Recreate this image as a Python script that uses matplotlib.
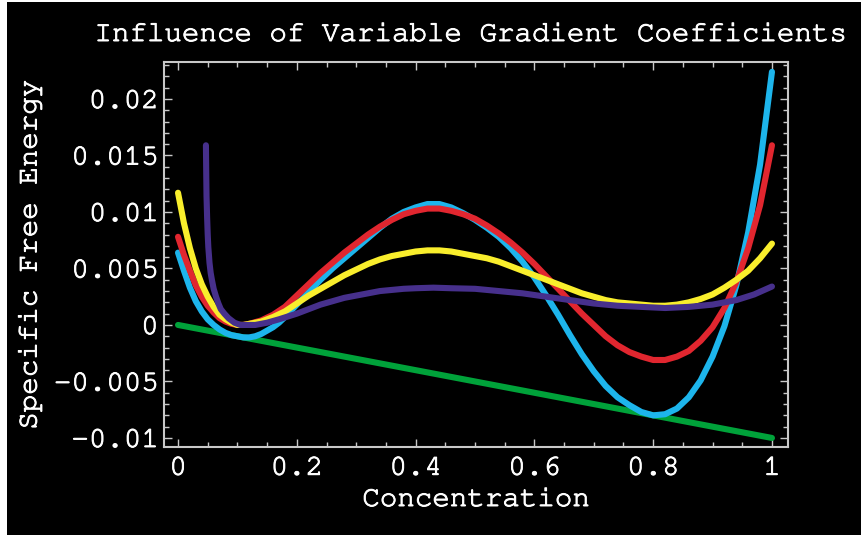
import matplotlib
matplotlib.use("Agg")
import matplotlib.pyplot as plt
import matplotlib.patheffects as pe
from matplotlib.patches import Rectangle
from matplotlib.ticker import FixedLocator, FixedFormatter, MultipleLocator
import logging
logging.getLogger("matplotlib.font_manager").setLevel(logging.ERROR)

# ---- data ----
cyan_x = [0, 0.01, 0.02, 0.03, 0.04, 0.05, 0.06, 0.07, 0.08, 0.09, 0.10, 0.11, 0.12, 0.13, 0.14,
          0.15, 0.16, 0.17, 0.18, 0.20, 0.22, 0.24, 0.26, 0.28, 0.30, 0.32, 0.34, 0.36, 0.38,
          0.40, 0.42, 0.44, 0.46, 0.48, 0.50, 0.52, 0.54, 0.56, 0.58, 0.60, 0.62, 0.64, 0.66,
          0.68, 0.70, 0.72, 0.74, 0.76, 0.78, 0.80, 0.82, 0.84, 0.86, 0.88, 0.90, 0.92,
          0.94, 0.96, 0.98, 1.0]
cyan_y = [0.0064, 0.0048, 0.0033, 0.0021, 0.0012, 0.0005, 0.0000, -0.0004, -0.0007, -0.0009,
          -0.0010, -0.0011, -0.0011, -0.0010, -0.0008, -0.0005, -0.0002, 0.0002, 0.0007, 0.0018,
          0.0029, 0.0040, 0.0050, 0.0059, 0.0068, 0.0077, 0.0086, 0.0094, 0.0100, 0.0104,
          0.0107, 0.0107, 0.0104, 0.0099, 0.0093, 0.0086, 0.0078, 0.0068, 0.0056, 0.0042,
          0.0026, 0.0009, -0.0009, -0.0026, -0.0041, -0.0054, -0.0064, -0.0071, -0.0077,
          -0.0080, -0.0079, -0.0074, -0.0064, -0.0049, -0.0028, -0.0001, 0.0035,
          0.0082, 0.0142, 0.0224]

red_x = [0, 0.01, 0.02, 0.03, 0.04, 0.05, 0.06, 0.07, 0.08, 0.09, 0.10, 0.11, 0.12, 0.14, 0.16,
         0.18, 0.20, 0.22, 0.24, 0.26, 0.28, 0.30, 0.32, 0.34, 0.36, 0.38, 0.40, 0.42, 0.44,
         0.46, 0.48, 0.50, 0.52, 0.54, 0.56, 0.58, 0.60, 0.62, 0.64, 0.66, 0.68, 0.70, 0.72,
         0.74, 0.76, 0.78, 0.80, 0.82, 0.84, 0.86, 0.88, 0.90, 0.92, 0.94, 0.96, 0.98, 1.0]
red_y = [0.0078, 0.0062, 0.0048, 0.0035, 0.0025, 0.0017, 0.0011, 0.0006, 0.0003, 0.0001, 0.0000,
         0.0000, 0.0001, 0.0004, 0.0009, 0.0016, 0.0026, 0.0036, 0.0046, 0.0055, 0.0064,
         0.0072, 0.0080, 0.0087, 0.0093, 0.0098, 0.0101, 0.0103, 0.0103, 0.0101, 0.0098,
         0.0094, 0.0088, 0.0081, 0.0073, 0.0064, 0.0054, 0.0043, 0.0032, 0.0021, 0.0010,
         0.0000, -0.0010, -0.0018, -0.0024, -0.0028, -0.0031, -0.0031, -0.0028, -0.0023,
         -0.0014, -0.0002, 0.0015, 0.0038, 0.0068, 0.0106, 0.0159]

yellow_x = [0, 0.01, 0.02, 0.03, 0.04, 0.05, 0.06, 0.07, 0.08, 0.09, 0.10, 0.11, 0.12, 0.14, 0.16,
            0.18, 0.20, 0.22, 0.24, 0.26, 0.28, 0.30, 0.32, 0.34, 0.36, 0.38, 0.40, 0.42, 0.44,
            0.46, 0.48, 0.50, 0.52, 0.54, 0.56, 0.58, 0.60, 0.62, 0.64, 0.66, 0.68, 0.70, 0.72,
            0.74, 0.76, 0.78, 0.80, 0.82, 0.84, 0.86, 0.88, 0.90, 0.92, 0.94, 0.96, 0.98, 1.0]
yellow_y = [0.0117, 0.0090, 0.0068, 0.0050, 0.0036, 0.0025, 0.0016, 0.0009, 0.0005, 0.0002,
            0.0000, 0.0000, 0.0001, 0.0003, 0.0007, 0.0012, 0.0019, 0.0026, 0.0032, 0.0038,
            0.0044, 0.0049, 0.0054, 0.0058, 0.0061, 0.0063, 0.0065, 0.0066, 0.0066, 0.0065,
            0.0063, 0.0061, 0.0059, 0.0056, 0.0052, 0.0048, 0.0044, 0.0040, 0.0036, 0.0032,
            0.0028, 0.0025, 0.0022, 0.0020, 0.0019, 0.0018, 0.0017, 0.0017, 0.0018, 0.0020,
            0.0023, 0.0027, 0.0033, 0.0040, 0.0048, 0.0059, 0.0072]

purple_x = [0.047, 0.0475, 0.048, 0.049, 0.050, 0.051, 0.053, 0.055, 0.057, 0.060, 0.064, 0.068,
            0.072, 0.078, 0.085, 0.095, 0.105, 0.115, 0.13, 0.15, 0.17, 0.20, 0.22, 0.24, 0.26,
            0.28, 0.30, 0.32, 0.34, 0.36, 0.38, 0.40, 0.43, 0.46, 0.50, 0.54, 0.58, 0.62, 0.66,
            0.70, 0.74, 0.78, 0.82, 0.86, 0.90, 0.94, 0.97, 1.0]
purple_y = [0.0159, 0.0135, 0.0114, 0.0095, 0.0080, 0.0069, 0.0055, 0.0046, 0.0040, 0.0032,
            0.0025, 0.0019, 0.0014, 0.0010, 0.0006, 0.0002, 0.0000, 0.0000, 0.0000, 0.0002,
            0.0005, 0.0010, 0.0014, 0.0018, 0.0021, 0.0024, 0.0026, 0.0028, 0.0030, 0.0031,
            0.0032, 0.00325, 0.0033, 0.00325, 0.0032, 0.0030, 0.0028, 0.0025, 0.0022, 0.0019,
            0.0017, 0.0016, 0.0015, 0.0016, 0.0018, 0.0022, 0.0027, 0.0034]

green_x = [0, 1]
green_y = [0, -0.01]

xticks = [0, 0.2, 0.4, 0.6, 0.8, 1.0]
xtick_labels = ["0", "0.2", "0.4", "0.6", "0.8", "1"]
yticks = [-0.01, -0.005, 0, 0.005, 0.01, 0.015, 0.02]
ytick_labels = ["-0.01", "-0.005", "0", "0.005", "0.01", "0.015", "0.02"]

title = "Influence of Variable Gradient Coefficients"
xlabel = "Concentration"
ylabel = "Specific Free Energy"

# ---- figure ----
FONT = ["Nimbus Mono PS", "FreeMono", "Courier New", "Courier", "Liberation Mono"]
FS = 21
W, H = 861, 535
thick = [pe.withStroke(linewidth=0.7, foreground="white")]

fig = plt.figure(figsize=(W / 100, H / 100), dpi=100)
fig.patch.set_facecolor("white")
fig.patches.append(Rectangle((7 / W, 0), 1 - 7 / W, 1 - 2 / H, transform=fig.transFigure,
                             facecolor="black", edgecolor="none", zorder=-10))

ax = fig.add_axes([164 / W, 1 - 447 / H, (788 - 164) / W, (447 - 62) / H])
ax.set_facecolor("black")

lw = 4.4
kw = dict(linewidth=lw, solid_capstyle="round", solid_joinstyle="round")
ax.plot(green_x, green_y, color="#00A23A", **kw)
ax.plot(cyan_x, cyan_y, color="#1DB5EC", **kw)
ax.plot(red_x, red_y, color="#E1262F", **kw)
ax.plot(yellow_x, yellow_y, color="#F9EE2C", **kw)
ax.plot(purple_x, purple_y, color="#47308C", **kw)

ax.set_xlim(-0.0236, 1.027)
ax.set_ylim(-0.0108, 0.02327)

frame_col = "#C8C8C8"
for s in ax.spines.values():
    s.set_color(frame_col)
    s.set_linewidth(1.5)

ax.xaxis.set_major_locator(FixedLocator(xticks))
ax.xaxis.set_major_formatter(FixedFormatter(xtick_labels))
ax.xaxis.set_minor_locator(MultipleLocator(0.05))
ax.yaxis.set_major_locator(FixedLocator(yticks))
ax.yaxis.set_major_formatter(FixedFormatter(ytick_labels))
ax.yaxis.set_minor_locator(MultipleLocator(0.001))

ax.tick_params(which="both", direction="in", top=True, right=True, color=frame_col, width=1.0)
ax.tick_params(which="major", length=6)
ax.tick_params(which="minor", length=3.5)
ax.tick_params(axis="x", which="major", pad=7)
ax.tick_params(axis="y", which="major", pad=4)
for lab in ax.get_xticklabels() + ax.get_yticklabels():
    lab.set_fontfamily(FONT)
    lab.set_fontsize(FS)
    lab.set_color("white")
    lab.set_path_effects(thick)

fig.text(470 / W, 1 - 35 / H, title, family=FONT, fontsize=FS, color="white",
         ha="center", va="center", path_effects=thick)
fig.text(476 / W, 1 - 500 / H, xlabel, family=FONT, fontsize=FS, color="white",
         ha="center", va="center", path_effects=thick)
fig.text(30 / W, 1 - 255 / H, ylabel, family=FONT, fontsize=FS, color="white",
         ha="center", va="center", rotation=90, path_effects=thick)

fig.savefig("out.png", dpi=100, facecolor=fig.get_facecolor())
